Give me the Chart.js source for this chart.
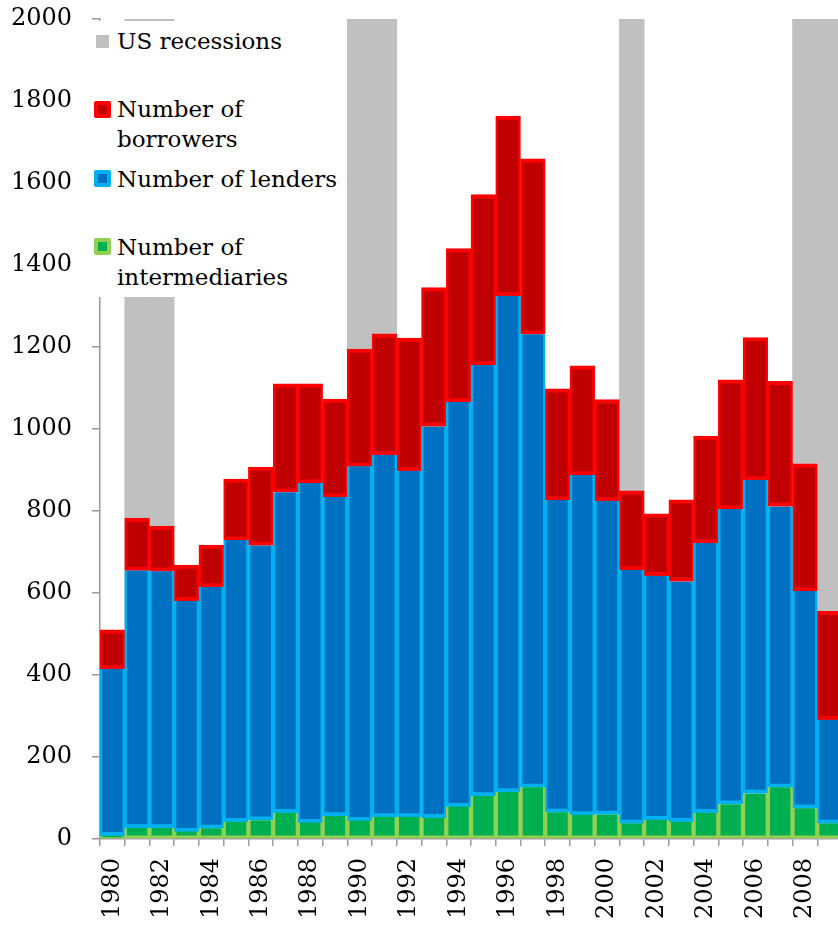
<!DOCTYPE html>
<html><head><meta charset="utf-8">
<script src="https://cdn.jsdelivr.net/npm/chart.js@4.4.0/dist/chart.umd.min.js"></script>
<style>
html,body{margin:0;padding:0;overflow:hidden;background:#fff;width:838px;height:927px;}
#wrap{position:relative;width:842px;height:927px;}
#legend{position:absolute;left:92px;top:21px;width:249px;height:276px;background:#fff;font-family:'DejaVu Serif';font-size:23px;color:#000;}
.item{position:absolute;left:25px;line-height:30px;white-space:nowrap;}
.mk{position:absolute;box-sizing:border-box;}
</style></head>
<body><div id="wrap"><canvas id="c" width="842" height="927"></canvas>
<div id="legend">
  <div class="mk" style="left:4px;top:14px;width:13px;height:13px;background:#C0C0C0;"></div>
  <div class="item" style="top:5px;">US recessions</div>
  <div class="mk" style="left:2px;top:80px;width:17px;height:17px;background:#C00000;border:4px solid #FF0000;border-radius:2px;"></div>
  <div class="item" style="top:73px;">Number of<br>borrowers</div>
  <div class="mk" style="left:2px;top:149px;width:17px;height:17px;background:#0070C0;border:4px solid #00B0F0;border-radius:2px;"></div>
  <div class="item" style="top:143px;">Number of lenders</div>
  <div class="mk" style="left:2px;top:217px;width:17px;height:17px;background:#00B050;border:4px solid #92D050;border-radius:2px;"></div>
  <div class="item" style="top:211px;">Number of<br>intermediaries</div>
</div></div>
<script>
const years = ['1980','1981','1982','1983','1984','1985','1986','1987','1988','1989',
               '1990','1991','1992','1993','1994','1995','1996','1997','1998','1999',
               '2000','2001','2002','2003','2004','2005','2006','2007','2008','2009'];
const intermediaries = [8,27,27,18,26,42,46,64,40,56,
                        45,54,54,52,79,105,115,126,65,59,
                        60,38,47,42,64,85,111,126,75,38];
const lenders = [407,628,626,563,589,687,670,782,828,778,
                 864,883,844,954,987,1051,1210,1105,762,829,
                 765,618,595,586,658,720,765,685,530,253];
const borrowers = [95,128,110,87,102,149,191,264,242,239,
                   286,295,324,339,374,416,438,428,271,266,
                   247,193,151,199,261,315,347,305,310,264];
const recessions = [null,2000,2000,null,null,null,null,null,null,null,
                    2000,2000,null,null,null,null,null,null,null,null,
                    null,2000,null,null,null,null,null,null,2000,2000];
const yTicks = {min:0, max:2000, step:200};

const font = {family:'DejaVu Serif', size:24};
const axisGray = '#999999';

new Chart(document.getElementById('c'), {
  type:'bar',
  data:{
    labels: years,
    datasets:[
      {label:'Number of intermediaries', data:intermediaries, stack:'main', grouped:false,
       backgroundColor:'#00B050', borderColor:'#92D050',
       borderWidth:{top:0,right:2.5,bottom:3,left:2.5}, borderSkipped:false,
       barPercentage:1, categoryPercentage:1},
      {label:'Number of lenders', data:lenders, stack:'main', grouped:false,
       backgroundColor:'#0070C0', borderColor:'#00B0F0',
       borderWidth:{top:0,right:2.5,bottom:4,left:2.5}, borderSkipped:false,
       barPercentage:1, categoryPercentage:1},
      {label:'Number of borrowers', data:borrowers, stack:'main', grouped:false,
       backgroundColor:'#C00000', borderColor:'#FF0000',
       borderWidth:{top:4,right:2.5,bottom:4,left:2.5}, borderSkipped:false,
       barPercentage:1, categoryPercentage:1},
      {label:'US recessions', data:recessions, stack:'rec', grouped:false, order:5,
       backgroundColor:'#C0C0C0', borderWidth:0,
       barPercentage:1, categoryPercentage:1}
    ]
  },
  options:{
    responsive:false, animation:false, devicePixelRatio:1,
    layout:{padding:{top:19,right:0,left:0,bottom:0}},
    plugins:{legend:{display:false}, tooltip:{enabled:false}},
    scales:{
      x:{type:'category', stacked:true, offset:true,
         grid:{offset:true, drawOnChartArea:false, drawTicks:true, tickLength:7, color:axisGray, lineWidth:1.5},
         border:{color:axisGray, width:1.5},
         ticks:{autoSkip:false, maxRotation:90, minRotation:90, padding:12, font:font, color:'#000',
                callback:(v,i)=> (i%2===0 ? years[i] : '')},
         afterFit:(s)=>{s.height=88; s.paddingLeft=0; s.paddingRight=0;}},
      y:{stacked:true, min:yTicks.min, max:yTicks.max,
         ticks:{stepSize:yTicks.step, font:font, color:'#000', padding:20,
                callback:(v)=>String(v)},
         grid:{drawOnChartArea:false, drawTicks:true, tickLength:8, color:axisGray, lineWidth:1.5},
         border:{color:axisGray, width:1.5},
         afterFit:(s)=>{s.width=100; s.paddingTop=0; s.paddingBottom=0;}}
    }
  }
});
</script>
</body></html>
